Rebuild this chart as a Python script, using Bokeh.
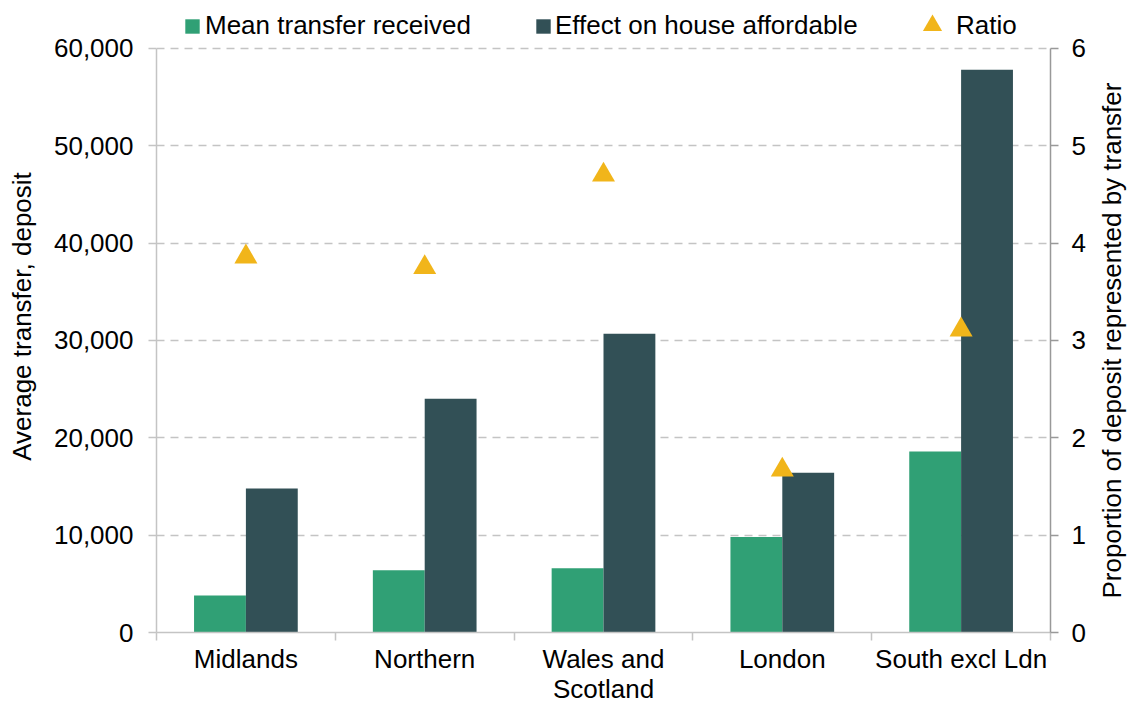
from bokeh.plotting import figure
from bokeh.layouts import row
from bokeh.models import (Range1d, LinearAxis, FixedTicker, NumeralTickFormatter,
                          Legend, LegendItem, ColumnDataSource, Grid, Title)
from bokeh.embed import file_html
from bokeh.resources import INLINE

# ---- data ----
categories = ["Midlands", "Northern", "Wales and\nScotland", "London", "South excl Ldn"]
mean_transfer = [3800, 6400, 6600, 9800, 18600]
effect_house = [14800, 24000, 30700, 16400, 57800]
ratio = [3.86, 3.75, 4.70, 1.67, 3.11]
left_ticks = [0, 10000, 20000, 30000, 40000, 50000, 60000]
right_ticks = [0, 1, 2, 3, 4, 5, 6]
series_names = ["Mean transfer received", "Effect on house affordable", "Ratio"]
left_title = "Average transfer, deposit"
right_title = "Proportion of deposit represented by transfer"

# ---- style / layout ----
FONT = "Liberation Sans"
FS = "26px"
GREEN = "#30A075"
DARK = "#325056"
YELLOW = "#F1B51A"
GRID = "#c4c4c4"
AXIS = "#c4c4c4"
RAXIS = "#999999"

H = 706
BOTTOM = 73          # bottom border (x-axis labels)
TOP_PAD = 48         # space above the top gridline, kept inside the frame for the legend
FRAME_H = H - BOTTOM
DATA_H = FRAME_H - TOP_PAD
stretch = FRAME_H / DATA_H

n = len(categories)
centres = [i + 0.5 for i in range(n)]
bar_w = 0.29

src = ColumnDataSource(dict(
    xc=centres,
    xg=[c - bar_w / 2 for c in centres],
    xd=[c + bar_w / 2 for c in centres],
    mean=mean_transfer, effect=effect_house, ratio=ratio,
))

p = figure(width=1088, height=H, output_backend="svg", toolbar_location=None,
           x_range=Range1d(0, n),
           y_range=Range1d(left_ticks[0], left_ticks[-1] * stretch),
           min_border_left=156, min_border_right=36, min_border_top=0,
           min_border_bottom=BOTTOM, x_axis_type=None, y_axis_type=None)
p.title.visible = False
p.outline_line_color = None
p.background_fill_color = "white"
p.border_fill_color = "white"
p.extra_y_ranges = {"ratio": Range1d(right_ticks[0], right_ticks[-1] * stretch)}

yl = LinearAxis(ticker=FixedTicker(ticks=left_ticks),
                formatter=NumeralTickFormatter(format="0,0"),
                axis_label=left_title, bounds=(left_ticks[0], left_ticks[-1]))
yr = LinearAxis(y_range_name="ratio", ticker=FixedTicker(ticks=right_ticks),
                bounds=(right_ticks[0], right_ticks[-1]))
xb = LinearAxis(ticker=FixedTicker(ticks=centres, minor_ticks=list(range(n + 1))),
                major_label_overrides={c: lab for c, lab in zip(centres, categories)})

for ax in (yl, yr, xb):
    ax.major_label_text_font = FONT
    ax.major_label_text_font_size = FS
    ax.major_label_text_color = "black"
    ax.axis_label_text_font = FONT
    ax.axis_label_text_font_size = FS
    ax.axis_label_text_font_style = "normal"
    ax.axis_label_text_color = "black"
    ax.minor_tick_line_color = None
    ax.major_tick_in = 0
    ax.major_tick_out = 8
    ax.axis_line_width = 1.5
    ax.major_tick_line_width = 1.5

yl.axis_line_color = AXIS
yl.major_tick_line_color = AXIS
yl.major_label_standoff = 15
yl.axis_label_standoff = 14

yr.axis_line_color = RAXIS
yr.major_tick_line_color = RAXIS
yr.major_label_standoff = 13

xb.axis_line_color = AXIS
xb.major_tick_line_color = None
xb.minor_tick_line_color = AXIS
xb.minor_tick_line_width = 1.5
xb.minor_tick_in = 0
xb.minor_tick_out = 8
xb.major_label_standoff = 3
xb.major_label_text_line_height = 1.0

p.add_layout(yl, "left")
p.add_layout(yr, "right")
p.add_layout(xb, "below")

g = Grid(dimension=1, ticker=FixedTicker(ticks=left_ticks[1:]),
         grid_line_color=GRID, grid_line_dash="8 6", grid_line_width=1.5)
p.add_layout(g)

r1 = p.vbar(x="xg", top="mean", width=bar_w, bottom=0, source=src,
            fill_color=GREEN, line_color=None)
r2 = p.vbar(x="xd", top="effect", width=bar_w, bottom=0, source=src,
            fill_color=DARK, line_color=None)
r3 = p.scatter(x="xc", y="ratio", y_range_name="ratio", source=src, marker="triangle",
               size=23, fill_color=YELLOW, line_color=None)

leg_kw = dict(border_line_color=None, background_fill_alpha=0, padding=0, margin=0,
              spacing=0, label_text_font=FONT, label_text_font_size=FS,
              label_text_color="black", orientation="horizontal")
l1 = Legend(items=[LegendItem(label=series_names[0], renderers=[r1])],
            location=(27, FRAME_H - 42), glyph_width=18, glyph_height=18,
            label_standoff=4, **leg_kw)
l2 = Legend(items=[LegendItem(label=series_names[1], renderers=[r2])],
            location=(378, FRAME_H - 42), glyph_width=18, glyph_height=18,
            label_standoff=3, **leg_kw)
l3 = Legend(items=[LegendItem(label=series_names[2], renderers=[r3])],
            location=(752, FRAME_H - 50), glyph_width=48, glyph_height=48,
            label_standoff=-10, **leg_kw)
for l in (l1, l2, l3):
    p.add_layout(l, "center")

# right-hand title, reading bottom-to-top, in a narrow companion figure
p2 = figure(width=40, height=H, output_backend="svg", toolbar_location=None,
            x_range=Range1d(0, 1), y_range=Range1d(0, 1),
            min_border_left=39, min_border_right=0, min_border_top=0,
            min_border_bottom=BOTTOM, x_axis_type=None, y_axis_type=None)
p2.title.visible = False
p2.outline_line_color = None
p2.background_fill_color = "white"
p2.border_fill_color = "white"
p2.xgrid.visible = False
p2.ygrid.visible = False
p2.add_layout(Title(text=right_title, align="left", vertical_align="middle",
                    text_font=FONT, text_font_size=FS, text_font_style="normal",
                    text_color="black", standoff=0, offset=34), "left")

layout = row(p, p2, spacing=0)
open("out.html", "w").write(file_html(layout, INLINE))
